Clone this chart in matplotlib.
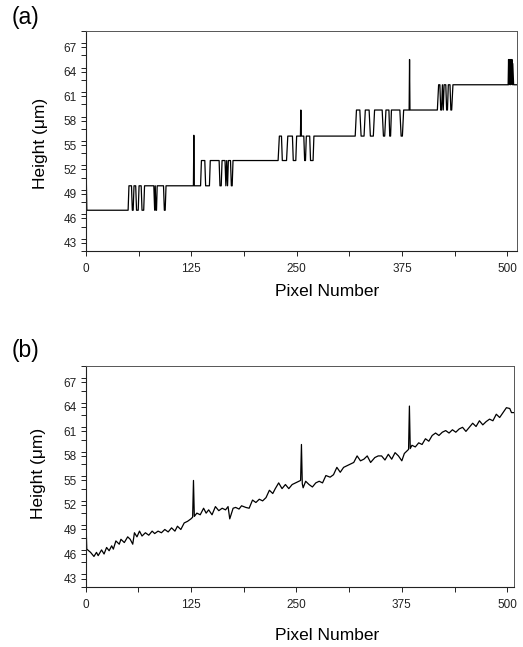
import numpy as np
import matplotlib
matplotlib.use("Agg")
import matplotlib.pyplot as plt
from matplotlib.ticker import MultipleLocator

plt.rcParams['font.family'] = ['Liberation Sans', 'DejaVu Sans']

# (a) quantised height profile, vertices
a_x = [0, 1, 50, 51, 54, 55, 56, 57, 59, 60, 62, 63, 65.5, 66.5, 68.5, 69.5,
       80.5, 81.5, 82.2, 83, 83.7, 84.5, 92, 93, 94, 95,
       127.5, 128, 128.5,
       136, 137, 141, 142, 146.5, 147.5, 158, 159, 160.5, 161.5, 165, 166,
       167, 168, 169, 171.5, 172.5, 173.5, 174.5,
       228, 229.5, 232, 233, 238, 239.5, 245, 246, 249, 250, 254.5, 255,
       255.5, 258.5, 259.5, 260.5, 261.5, 265.5, 266.5, 269.5, 270.5,
       319.5, 321, 325, 326.5, 330, 331.5, 336, 337.5, 341, 342.5, 351.5,
       353, 354.5, 356, 359.5, 360.5, 361.5, 362.5, 372.5, 374, 375.5, 377,
       383.5, 384, 384.5,
       417, 418.5, 420, 421, 422, 423, 424, 425, 427, 428, 429, 430, 432,
       433, 434, 435.5,
       501, 501.5, 502, 502.5, 503, 503.5, 504, 504.5, 505, 505.5, 506,
       506.5, 507.5, 511]
a_y = [53.2, 47.0, 47.0, 50.0, 50.0, 47.0, 47.0, 50.0, 50.0, 47.0, 47.0, 50.0, 50.0, 47.0, 47.0, 50.0,
       50.0, 47.0, 50.0, 47.0, 47.0, 50.0, 50.0, 47.0, 47.0, 50.0,
       50.0, 56.2, 50.0,
       50.0, 53.1, 53.1, 50.0, 50.0, 53.1, 53.1, 50.0, 50.0, 53.1, 53.1, 50.0,
       53.1, 50.0, 53.1, 53.1, 50.0, 50.0, 53.1,
       53.1, 56.1, 56.1, 53.1, 53.1, 56.1, 56.1, 53.1, 53.1, 56.1, 56.1, 59.3,
       56.1, 56.1, 53.1, 53.1, 56.1, 56.1, 53.1, 53.1, 56.1,
       56.1, 59.3, 59.3, 56.1, 56.1, 59.3, 59.3, 56.1, 56.1, 59.3, 59.3,
       56.1, 56.1, 59.3, 59.3, 56.1, 56.1, 59.3, 59.3, 56.1, 56.1, 59.3,
       59.3, 65.5, 59.3,
       59.3, 62.4, 62.4, 59.3, 59.3, 62.4, 59.3, 62.4, 62.4, 59.3, 59.3, 62.4, 62.4,
       59.3, 59.3, 62.4,
       62.4, 65.5, 62.4, 65.5, 63.0, 65.5, 62.4, 65.5, 62.8, 65.5, 62.4,
       65.0, 62.4, 62.4]

# (b) continuous height profile
b_x = [0, 1.5, 6, 10, 13, 15, 19, 22, 25, 28, 31, 33, 36, 40, 42, 46, 50, 53,
       56, 58, 61, 64, 67, 71, 75, 79, 82, 86, 90, 94, 98, 102, 106, 109, 113,
       117, 121, 125, 127, 128, 129, 132, 136, 140, 143, 146, 150, 154, 158,
       162, 166, 169, 171, 175, 178, 182, 185, 190, 194, 198, 202, 206, 210,
       214, 218, 222, 225, 229, 233, 237, 241, 245, 249, 253, 255, 256, 257,
       258, 261, 265, 269, 273, 277, 281, 285, 290, 294, 298, 302, 306, 310,
       314, 318, 322, 326, 330, 334, 338, 343, 347, 351, 355, 359, 363, 367,
       371, 375, 378, 381, 383, 384, 385, 387, 391, 395, 399, 403, 407, 411,
       415, 419, 423, 427, 431, 435, 439, 443, 447, 451, 455, 459, 463, 467,
       471, 475, 479, 483, 487, 491, 495, 499, 503, 505, 508]
b_y = [51.7, 46.6, 46.2, 45.7, 46.2, 45.8, 46.5, 46.0, 46.8, 46.4, 47.0, 46.6, 47.6, 47.2, 47.8, 47.4, 48.1, 47.8,
       47.2, 48.6, 48.1, 48.8, 48.2, 48.6, 48.3, 48.8, 48.5, 48.8, 48.6, 49.0, 48.7, 49.2, 48.8, 49.4, 49.0,
       49.8, 50.0, 50.3, 50.5, 55.0, 50.6, 51.0, 50.8, 51.6, 51.0, 51.4, 50.8, 51.8, 51.3,
       51.6, 51.4, 51.8, 50.3, 51.6, 51.7, 51.5, 51.9, 51.7, 51.6, 52.6, 52.3, 52.7, 52.5,
       52.9, 53.8, 53.4, 54.0, 54.7, 54.0, 54.5, 54.0, 54.5, 54.7, 54.9, 55.0, 59.4, 54.6,
       54.1, 54.9, 54.5, 54.2, 54.7, 54.9, 54.7, 55.6, 55.4, 55.7, 56.6, 56.0, 56.6, 56.8,
       57.0, 57.2, 58.0, 57.4, 57.6, 58.0, 57.2, 57.8, 58.0, 58.0, 57.5, 58.2, 57.6, 58.4,
       58.0, 57.4, 58.3, 58.6, 58.8, 64.1, 58.9, 59.3, 59.1, 59.6, 59.4, 60.1, 59.8, 60.5,
       60.8, 60.5, 60.9, 61.1, 60.8, 61.2, 60.9, 61.3, 61.5, 61.0, 61.5, 62.0, 61.6, 62.3,
       61.8, 62.2, 62.5, 62.3, 63.1, 62.7, 63.3, 63.9, 63.8, 63.3, 63.3]

y_ticks = [43, 46, 49, 52, 55, 58, 61, 64, 67]
x_ticks = [0, 125, 250, 375, 500]

fig = plt.figure(figsize=(5.23, 6.47), dpi=100)


def style_axes(ax, xmax):
    ax.set_xlim(0, xmax)
    ax.set_ylim(42, 69)
    ax.set_xticks(x_ticks)
    ax.set_yticks(y_ticks)
    ax.xaxis.set_minor_locator(MultipleLocator(62.5))
    ax.yaxis.set_minor_locator(MultipleLocator(1.5))
    ax.tick_params(which='both', direction='out', length=3.5, width=0.7,
                   labelsize=8.5, colors='#222222')
    ax.tick_params(axis='x', pad=5)
    ax.tick_params(axis='y', pad=3)
    for side in ['top', 'right']:
        ax.spines[side].set_linewidth(0.7)
        ax.spines[side].set_color('#555555')
    for side in ['left', 'bottom']:
        ax.spines[side].set_linewidth(0.8)
        ax.spines[side].set_color('#222222')


ax1 = fig.add_axes([0.1644, 0.6121, 0.8241, 0.3400])
ax1.plot(a_x, a_y, color='black', linewidth=0.9)
style_axes(ax1, 511.5)

ax2 = fig.add_axes([0.1635, 0.0932, 0.8193, 0.3411])
ax2.plot(b_x, b_y, color='black', linewidth=0.9)
style_axes(ax2, 508)

fig.text(12 / 523, 1 - 17.5 / 647, '(a)', fontsize=16.5, ha='left', va='center')
fig.text(12 / 523, 1 - 350 / 647, '(b)', fontsize=16.5, ha='left', va='center')

fig.text(41 / 523, 1 - 143 / 647, 'Height (\u03bcm)', fontsize=12.5,
         rotation=90, ha='center', va='center')
fig.text(38 / 523, 1 - 473 / 647, 'Height (\u03bcm)', fontsize=12.5,
         rotation=90, ha='center', va='center')
fig.text(327 / 523, 1 - 292 / 647, 'Pixel Number', fontsize=12.5,
         ha='center', va='center')
fig.text(327 / 523, 1 - 635 / 647, 'Pixel Number', fontsize=12.5,
         ha='center', va='center')

fig.savefig('out.png', dpi=100)
